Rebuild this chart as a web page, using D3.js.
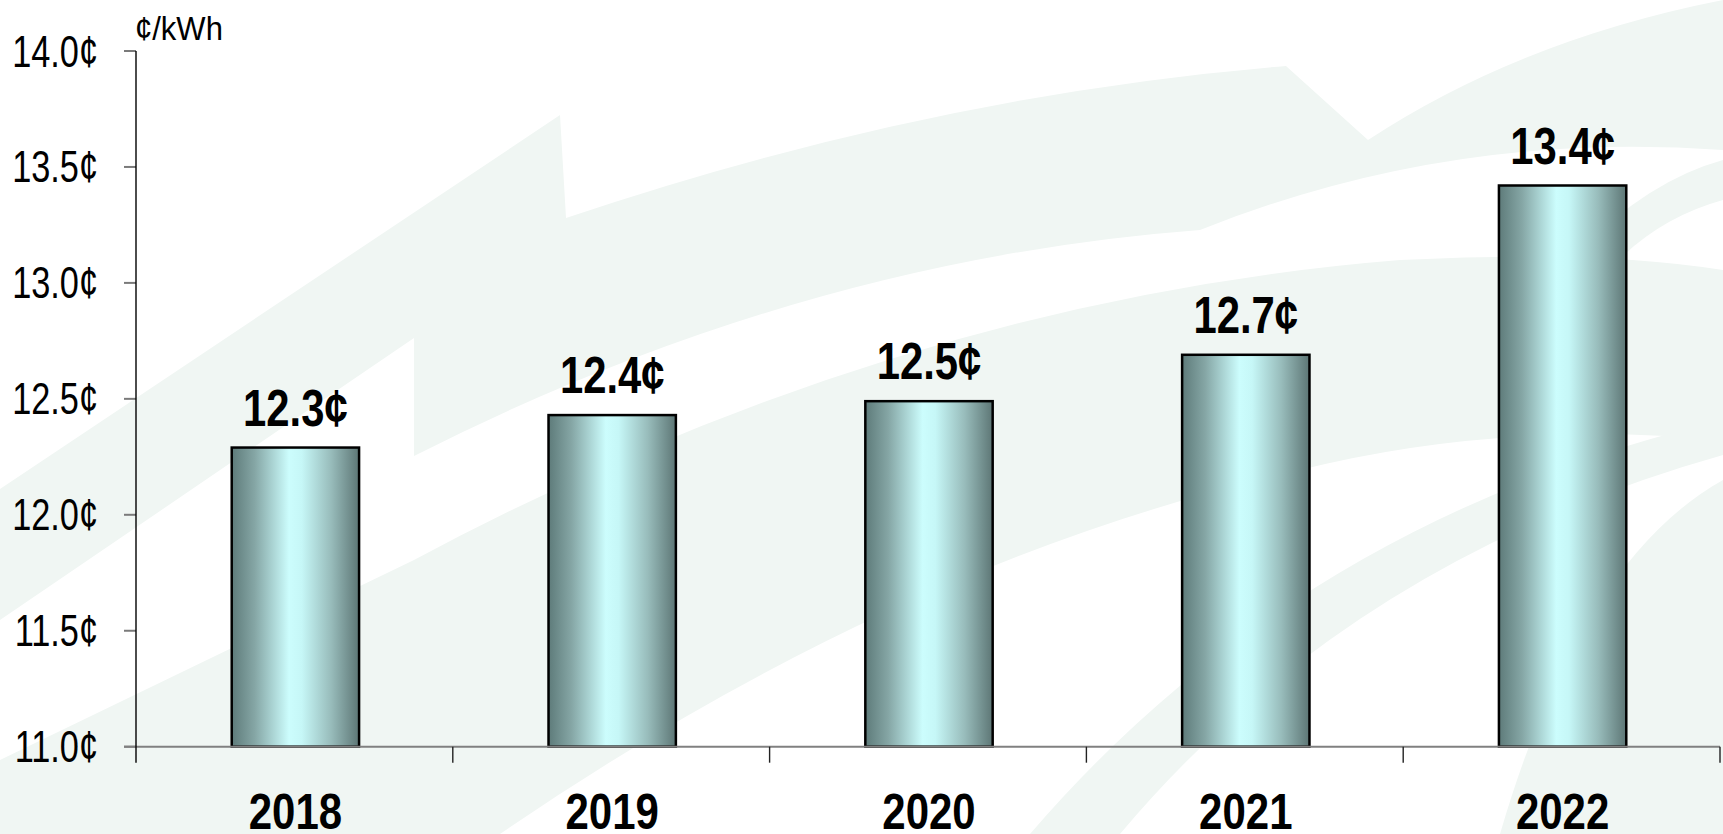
<!DOCTYPE html>
<html>
<head>
<meta charset="utf-8">
<script src="https://cdn.jsdelivr.net/npm/d3@7"></script>
<style>
  html, body { margin: 0; padding: 0; background: #ffffff; }
  svg { display: block; }
  text { font-family: "Liberation Sans", Arial, sans-serif; }
</style>
</head>
<body>
<svg id="chart" width="1723" height="834"></svg>
<script>
// Average residential price per year, in cents per kWh
const years = ["2018", "2019", "2020", "2021", "2022"];
const prices = [12.29, 12.43, 12.49, 12.69, 13.42];
const priceLabels = ["12.3¢", "12.4¢", "12.5¢", "12.7¢", "13.4¢"];
const yTicks = [11.0, 11.5, 12.0, 12.5, 13.0, 13.5, 14.0];
const unitLabel = "¢/kWh";

const plot = { left: 136, right: 1720, top: 51, bottom: 746.7 };

const svg = d3.select("#chart");

// Faint watermark swooshes behind the plot
const wm = svg.append("g").attr("fill", "#f0f6f3");
const swooshes = [
  "M0,489 L560,115 L566,218 Q930,95 1286,66 L1368,140 Q1520,40 1723,0 L1723,150 Q1450,130 1200,230 Q800,260 414,456 L414,338 L0,620 Z",
  "M0,760 L414,560 Q900,300 1400,260 Q1600,250 1723,270 L1723,440 Q1500,420 1300,470 Q900,560 500,834 L0,834 Z",
  "M1500,834 Q1580,560 1723,480 L1723,834 Z",
  "M1030,834 Q1300,520 1723,420 L1723,455 Q1350,560 1120,834 Z",
  "M1580,250 Q1650,180 1723,160 L1723,200 Q1650,220 1600,280 Z"
];
wm.selectAll("path").data(swooshes).join("path").attr("d", d => d);

// Scales
const x = d3.scaleBand().domain(years).range([plot.left, plot.right]).padding(0);
const y = d3.scaleLinear().domain([11, 14]).range([plot.bottom, plot.top]);
const barW = x.bandwidth() * 0.402;
const cx = d => x(d) + x.bandwidth() / 2 + 1;

// Narrow type: horizontally compressed sans
function narrow(sel, px, py, sx) {
  return sel.attr("transform", (d, i) => `translate(${px(d, i)},${py(d, i)}) scale(${sx},1)`);
}

// Bar gradient: dark edges, pale cyan highlight near the middle
const defs = svg.append("defs");
const grad = defs.append("linearGradient").attr("id", "barGrad")
  .attr("x1", "0%").attr("x2", "100%").attr("y1", "0%").attr("y2", "0%");
[
  [0, "#5e7b7a"], [0.18, "#85a6a5"], [0.45, "#ccfdfd"], [0.55, "#c6f7f7"],
  [0.78, "#98bcbb"], [1, "#5d7675"]
].forEach(([o, c]) => grad.append("stop").attr("offset", o).attr("stop-color", c));

// Y axis: ticks + labels
const yAxisG = svg.append("g");
yAxisG.selectAll("line.tick").data(yTicks).join("line")
  .attr("class", "tick")
  .attr("x1", plot.left - 12).attr("x2", plot.left)
  .attr("y1", d => y(d)).attr("y2", d => y(d))
  .attr("stroke", "#7a7a7a").attr("stroke-width", 2);
narrow(yAxisG.selectAll("text").data(yTicks).join("text"),
    () => plot.left - 38, d => y(d) + 15.5, 0.78)
  .attr("text-anchor", "end")
  .attr("font-size", 44)
  .attr("fill", "#000")
  .text(d => d3.format(".1f")(d) + "¢");

// Unit label
narrow(svg.append("text").datum(unitLabel), () => plot.left - 1, () => 40, 0.94)
  .attr("font-size", 33).attr("fill", "#000")
  .text(d => d);

// Bars
svg.append("g").selectAll("rect").data(years).join("rect")
  .attr("x", d => cx(d) - barW / 2)
  .attr("y", (d, i) => y(prices[i]))
  .attr("width", barW)
  .attr("height", (d, i) => y(11) - y(prices[i]))
  .attr("fill", "url(#barGrad)")
  .attr("stroke", "#000").attr("stroke-width", 2.5);

// X axis line and category dividers
svg.append("line")
  .attr("x1", plot.left - 12).attr("x2", plot.right)
  .attr("y1", y(11)).attr("y2", y(11))
  .attr("stroke", "#808080").attr("stroke-width", 2);
const dividers = years.map(d => x(d)).slice(1).concat([plot.right]);
svg.append("g").selectAll("line").data(dividers).join("line")
  .attr("x1", d => d).attr("x2", d => d)
  .attr("y1", y(11)).attr("y2", y(11) + 16)
  .attr("stroke", "#222").attr("stroke-width", 1.4);

// Y axis spine
svg.append("line")
  .attr("x1", plot.left).attr("x2", plot.left)
  .attr("y1", y(14)).attr("y2", y(11) + 16)
  .attr("stroke", "#000").attr("stroke-width", 1.4);

// Value labels above bars
narrow(svg.append("g").selectAll("text").data(years).join("text"),
    d => cx(d), (d, i) => y(prices[i]) - 22, 0.82)
  .attr("text-anchor", "middle")
  .attr("font-size", 51).attr("font-weight", "bold").attr("fill", "#000")
  .text((d, i) => priceLabels[i]);

// Category labels
narrow(svg.append("g").selectAll("text").data(years).join("text"),
    d => cx(d), () => 829, 0.84)
  .attr("text-anchor", "middle")
  .attr("font-size", 50).attr("font-weight", "bold").attr("fill", "#000")
  .text(d => d);
</script>
</body>
</html>
